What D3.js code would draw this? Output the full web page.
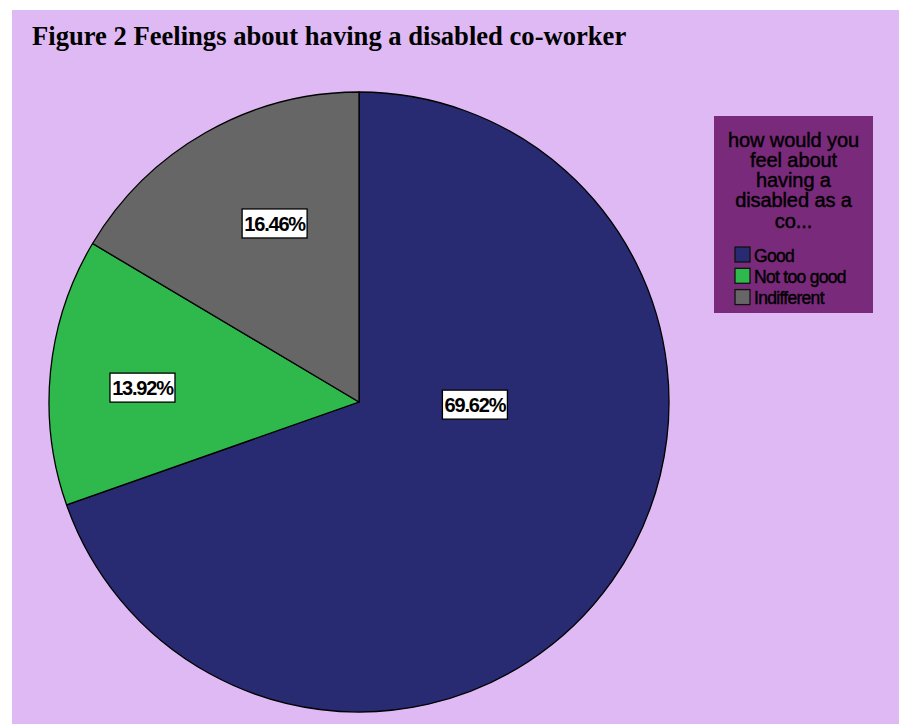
<!DOCTYPE html>
<html>
<head>
<meta charset="utf-8">
<script src="https://cdn.jsdelivr.net/npm/d3@7"></script>
<style>
  html, body { margin:0; padding:0; background:#fff; }
  svg { display:block; }
</style>
</head>
<body>
<div id="chart"></div>
<script>
// Figure 2 — pie chart, SPSS style

// ---- data ----
const categories = ["Good", "Not too good", "Indifferent"];
const percents   = [69.62, 13.92, 16.46];
const legendTitleLines = ["how would you", "feel about", "having a", "disabled as a", "co..."];
const titleText = "Figure 2 Feelings about having a disabled co-worker";

// ---- look ----
const colors = ["#282a72", "#2fb84b", "#666666"];
const bgColor = "#dfb9f3";
const legendFill = "#7a2a7b";

// label anchors (angle in degrees clockwise from 12 o'clock, fraction of radius)
const labelAnchor = [
  {a: 91.3,  k: 0.374},
  {a: 273.8, k: 0.700},
  {a: 334.7, k: 0.637}
];

const width = 899, height = 724;
const svg = d3.select("#chart").append("svg")
  .attr("width", width).attr("height", height);

// panel
svg.append("rect")
  .attr("x", 12).attr("y", 10)
  .attr("width", width - 12).attr("height", height - 10)
  .attr("fill", bgColor);

svg.append("text")
  .attr("x", 32).attr("y", 45)
  .attr("font-family", "'Liberation Serif', 'Times New Roman', serif")
  .attr("font-weight", "bold")
  .attr("font-size", 26.6)
  .attr("fill", "#000")
  .text(titleText);

// pie
const cx = 359, cy = 402, R = 310;
const data = categories.map((c, i) => ({cat: c, v: percents[i], i}));

const pie = d3.pie().sort(null).value(d => d.v);
const arc = d3.arc().innerRadius(0).outerRadius(R);
const color = d3.scaleOrdinal().domain(categories).range(colors);

const g = svg.append("g").attr("transform", `translate(${cx},${cy})`);

g.selectAll("path.slice")
  .data(pie(data))
  .join("path")
  .attr("class", "slice")
  .attr("d", arc)
  .attr("fill", d => color(d.data.cat))
  .attr("stroke", "#000")
  .attr("stroke-width", 1.3)
  .attr("stroke-linejoin", "round");

// labels
const fmt = d => d3.format(".2f")(d) + "%";
const lab = g.selectAll("g.lab")
  .data(pie(data))
  .join("g")
  .attr("class", "lab")
  .attr("transform", d => {
    const p = labelAnchor[d.data.i];
    const t = p.a * Math.PI / 180;
    return `translate(${Math.sin(t) * p.k * R},${-Math.cos(t) * p.k * R})`;
  });

lab.append("rect")
  .attr("x", -32.5).attr("y", -14.5)
  .attr("width", 65).attr("height", 29)
  .attr("fill", "#fff")
  .attr("stroke", "#000")
  .attr("stroke-width", 1.3);

lab.append("text")
  .attr("text-anchor", "middle")
  .attr("y", 7.5)
  .attr("font-family", "'Liberation Sans', Arial, sans-serif")
  .attr("font-weight", "bold")
  .attr("font-size", 20)
  .attr("letter-spacing", -1.2)
  .attr("fill", "#000")
  .text(d => fmt(d.data.v));

// legend
const lx = 714, ly = 116, lw = 159, lh = 197;
const leg = svg.append("g");
leg.append("rect")
  .attr("x", lx).attr("y", ly)
  .attr("width", lw).attr("height", lh)
  .attr("fill", legendFill);

leg.selectAll("text.lt")
  .data(legendTitleLines)
  .join("text")
  .attr("class", "lt")
  .attr("x", lx + lw / 2)
  .attr("y", (d, i) => 146.5 + i * 20.3)
  .attr("text-anchor", "middle")
  .attr("font-family", "'Liberation Sans', Arial, sans-serif")
  .attr("font-size", 20)
  .attr("letter-spacing", -0.1)
  .attr("fill", "#000")
  .attr("stroke", "#000")
  .attr("stroke-width", 0.45)
  .text(d => d);

const items = leg.selectAll("g.item")
  .data(categories)
  .join("g")
  .attr("class", "item")
  .attr("transform", (d, i) => `translate(735,${247 + i * 21.3})`);

items.append("rect")
  .attr("width", 15).attr("height", 15)
  .attr("fill", d => color(d))
  .attr("stroke", "#111")
  .attr("stroke-width", 1.3);

items.append("text")
  .attr("x", 19).attr("y", 14.5)
  .attr("font-family", "'Liberation Sans', Arial, sans-serif")
  .attr("font-size", 17.5)
  .attr("letter-spacing", -0.7)
  .attr("fill", "#000")
  .attr("stroke", "#000")
  .attr("stroke-width", 0.4)
  .text(d => d);
</script>
</body>
</html>
